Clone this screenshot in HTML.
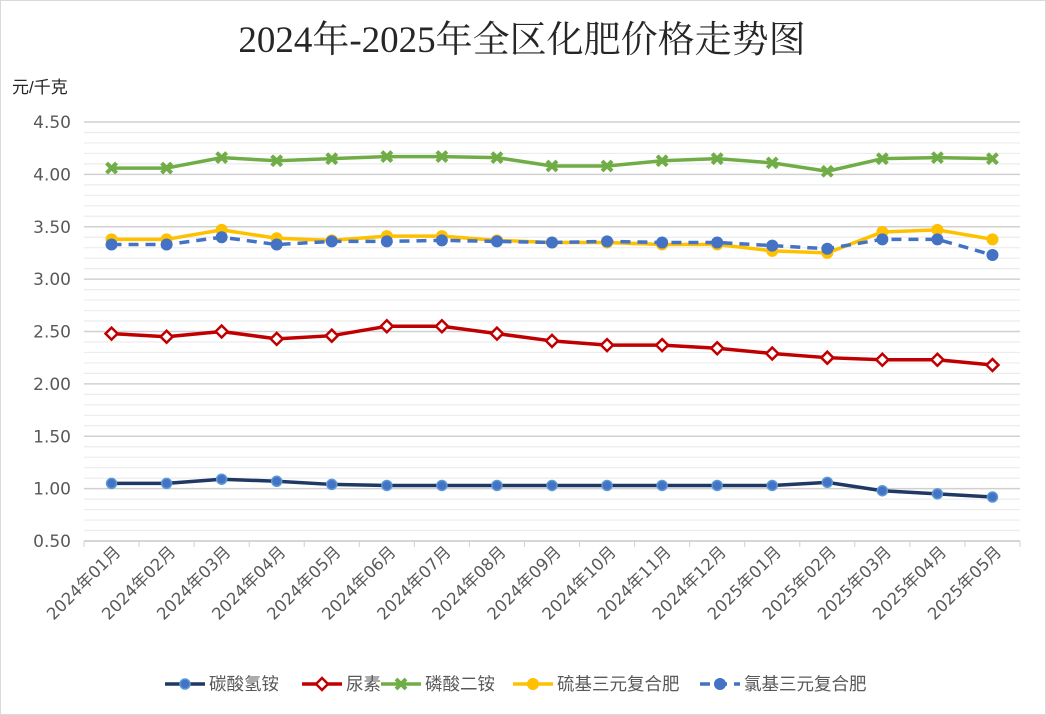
<!DOCTYPE html>
<html><head><meta charset="utf-8"><style>
body{margin:0;background:#fff;}
svg{display:block;font-family:"DejaVu Sans","Noto Sans CJK SC",sans-serif;}
</style></head><body>
<svg id="c" width="1046" height="715">
<rect x="0.5" y="0.5" width="1045" height="714" fill="#fff" stroke="#d9d9d9"/>
<text x="522" y="52" text-anchor="middle" font-size="37" fill="#262626" font-family="'Liberation Serif','Noto Serif CJK SC',serif">2024年-2025年全区化肥价格走势图</text>
<text x="12" y="93" font-size="17" fill="#262626" font-family="'Liberation Sans','Noto Sans CJK SC',sans-serif">元/千克</text>
<g id="grid"></g><g id="axes"></g><g id="series"></g><g id="legend"></g>
</svg>
<script>
const categories=["2024年01月","2024年02月","2024年03月","2024年04月","2024年05月","2024年06月","2024年07月","2024年08月","2024年09月","2024年10月","2024年11月","2024年12月","2025年01月","2025年02月","2025年03月","2025年04月","2025年05月"];
const ammoniumBicarb=[1.05,1.05,1.09,1.07,1.04,1.03,1.03,1.03,1.03,1.03,1.03,1.03,1.03,1.06,0.98,0.95,0.92];
const urea=[2.48,2.45,2.50,2.43,2.46,2.55,2.55,2.48,2.41,2.37,2.37,2.34,2.29,2.25,2.23,2.23,2.18];
const dap=[4.06,4.06,4.16,4.13,4.15,4.17,4.17,4.16,4.08,4.08,4.13,4.15,4.11,4.03,4.15,4.16,4.15];
const sulfurCompound=[3.38,3.38,3.47,3.39,3.37,3.41,3.41,3.37,3.35,3.35,3.33,3.33,3.27,3.25,3.45,3.47,3.38];
const chlorineCompound=[3.33,3.33,3.40,3.33,3.36,3.36,3.37,3.36,3.35,3.36,3.35,3.35,3.32,3.29,3.38,3.38,3.23];
const yTicks=["0.50","1.00","1.50","2.00","2.50","3.00","3.50","4.00","4.50"];
const seriesNames=["碳酸氢铵","尿素","磷酸二铵","硫基三元复合肥","氯基三元复合肥"];

const NS="http://www.w3.org/2000/svg";
const L=84,R=1020,T=122,B=541,yMin=0.5,yMax=4.5;
const band=(R-L)/categories.length;
const x=i=>L+band*(i+0.5);
const y=v=>B-(v-yMin)/(yMax-yMin)*(B-T);
function mk(tag,attrs,parent){const e=document.createElementNS(NS,tag);for(const k in attrs)e.setAttribute(k,attrs[k]);parent.appendChild(e);return e;}
const grid=document.getElementById('grid'),axes=document.getElementById('axes'),ser=document.getElementById('series'),leg=document.getElementById('legend');
for(let k=0;k<=40;k++){const v=yMin+k*0.1;const major=k%5===0;
 const g=mk('line',{x1:L,x2:R,y1:y(v),y2:y(v),stroke:major?'#d0d0d0':'#ececec','stroke-width':major?1.5:1.2},grid);
 
 }
yTicks.forEach(t=>{const e=mk('text',{x:71,y:y(parseFloat(t))+6,'text-anchor':'end','font-size':17,fill:'#595959'},axes);e.textContent=t;
 
 });
const ax=mk('line',{x1:L,x2:R,y1:B,y2:B,stroke:'#d0d0d0','stroke-width':1.5},axes);


for(let i=0;i<=categories.length;i++){const t=mk('line',{x1:L+band*i,x2:L+band*i,y1:B,y2:B+6,stroke:'#d0d0d0'},axes);
 
 }
categories.forEach((c,i)=>{const ax0=x(i)+10,ay0=B+12;const e=mk('text',{x:ax0,y:ay0,'text-anchor':'end','font-size':16.5,fill:'#595959',transform:`rotate(-45 ${ax0} ${ay0})`},axes);e.textContent=c;
 
 });
function marker(kind,cx,cy,col,p){
 if(kind==='circ'){const m=mk('circle',{cx,cy,r:5,fill:'#4472c4',stroke:'#5b9bd5','stroke-width':1.5},p);return m;}
 if(kind==='diam'){return mk('polygon',{points:`${cx},${cy-6} ${cx+6},${cy} ${cx},${cy+6} ${cx-6},${cy}`,fill:'#fff',stroke:col,'stroke-width':2.5},p);}
 if(kind==='x'){return mk('path',{d:`M${cx-5} ${cy-5}L${cx+5} ${cy+5}M${cx+5} ${cy-5}L${cx-5} ${cy+5}`,stroke:col,'stroke-width':4},p);}
 return mk('circle',{cx,cy,r:6,fill:col},p);}
const S=[[ammoniumBicarb,'#1f3864','circ',''],[urea,'#c00000','diam',''],[dap,'#70ad47','x',''],[sulfurCompound,'#ffc000','dot',''],[chlorineCompound,'#4472c4','dot','10 7']];
const order=[2,3,4,1,0];
order.forEach(si=>{const [d,col,kind,dash]=S[si];
 const g=mk('g',{},ser);
 
 
 const pl=mk('polyline',{points:d.map((v,i)=>x(i)+','+y(v)).join(' '),fill:'none',stroke:col,'stroke-width':3.5,'stroke-dasharray':dash||'none','stroke-linejoin':'round'},g);
 
 
 d.forEach((v,i)=>{const m=marker(kind,x(i),y(v),col,g);
  
  });});
const lx=[165,302,381,513,700],ly=684;
S.forEach((s,i)=>{const [d,col,kind,dash]=s;const g=mk('g',{},leg);
 
 
 mk('line',{x1:lx[i],x2:lx[i]+40,y1:ly,y2:ly,stroke:col,'stroke-width':3.5,'stroke-dasharray':dash||'none'},g);
 marker(kind,lx[i]+20,ly,col,g);
 const t=mk('text',{x:lx[i]+44,y:ly+6,'font-size':17.5,fill:'#595959'},g);t.textContent=seriesNames[i];});
</script>
</body></html>
